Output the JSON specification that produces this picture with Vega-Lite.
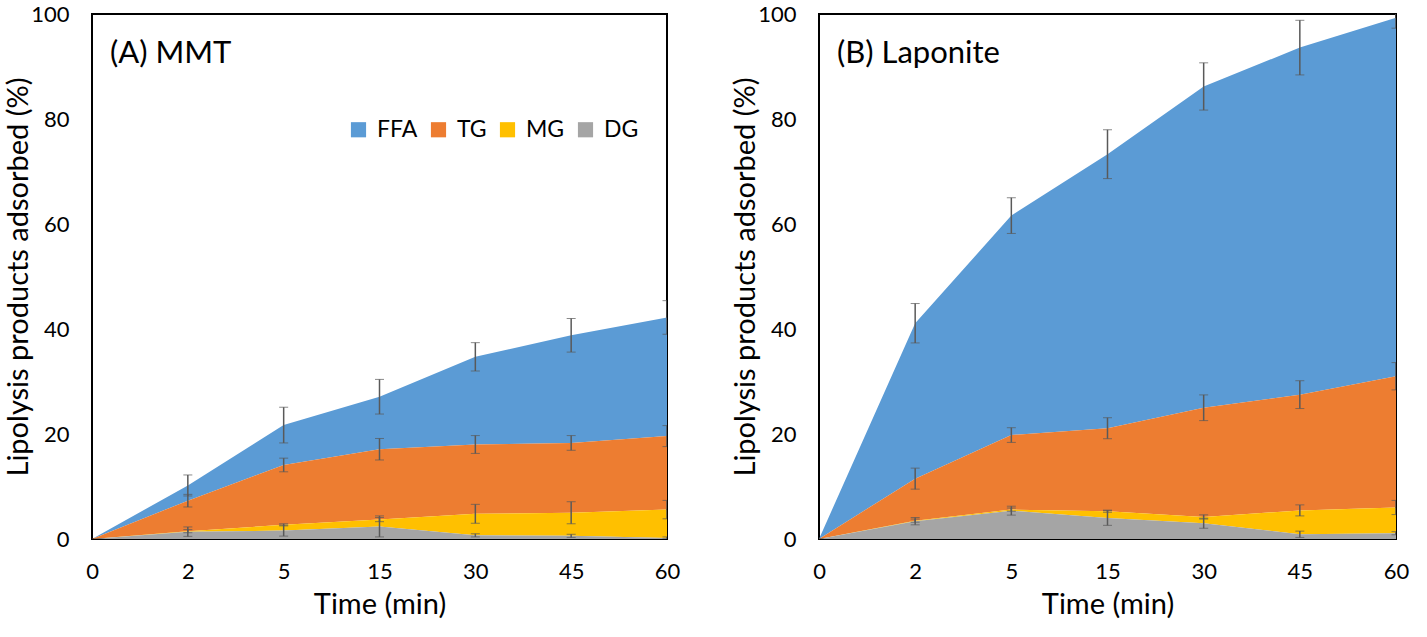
{
  "$schema": "https://vega.github.io/schema/vega-lite/v6.json",
  "background": "white",
  "padding": {"left": 3, "top": 2, "right": 5, "bottom": 5},
  "data": {
    "values": [
      {"panel": "A", "time": "0", "series": "FFA", "rank": 4, "value": 0, "err": 0},
      {"panel": "A", "time": "0", "series": "TG", "rank": 3, "value": 0, "err": 0},
      {"panel": "A", "time": "0", "series": "MG", "rank": 2, "value": 0, "err": 0},
      {"panel": "A", "time": "0", "series": "DG", "rank": 1, "value": 0, "err": 0},
      {"panel": "A", "time": "2", "series": "FFA", "rank": 4, "value": 2.9, "err": 2.0},
      {"panel": "A", "time": "2", "series": "TG", "rank": 3, "value": 5.8, "err": 1.2},
      {"panel": "A", "time": "2", "series": "MG", "rank": 2, "value": 0.1, "err": 0.3},
      {"panel": "A", "time": "2", "series": "DG", "rank": 1, "value": 1.4, "err": 0.9},
      {"panel": "A", "time": "5", "series": "FFA", "rank": 4, "value": 7.6, "err": 3.4},
      {"panel": "A", "time": "5", "series": "TG", "rank": 3, "value": 11.4, "err": 1.3},
      {"panel": "A", "time": "5", "series": "MG", "rank": 2, "value": 1.1, "err": 0.2},
      {"panel": "A", "time": "5", "series": "DG", "rank": 1, "value": 1.6, "err": 1.05},
      {"panel": "A", "time": "15", "series": "FFA", "rank": 4, "value": 10.0, "err": 3.3},
      {"panel": "A", "time": "15", "series": "TG", "rank": 3, "value": 13.4, "err": 2.05},
      {"panel": "A", "time": "15", "series": "MG", "rank": 2, "value": 1.3, "err": 0.4},
      {"panel": "A", "time": "15", "series": "DG", "rank": 1, "value": 2.4, "err": 2.0},
      {"panel": "A", "time": "30", "series": "FFA", "rank": 4, "value": 16.7, "err": 2.7},
      {"panel": "A", "time": "30", "series": "TG", "rank": 3, "value": 13.2, "err": 1.7},
      {"panel": "A", "time": "30", "series": "MG", "rank": 2, "value": 4.1, "err": 1.8},
      {"panel": "A", "time": "30", "series": "DG", "rank": 1, "value": 0.7, "err": 0.3},
      {"panel": "A", "time": "45", "series": "FFA", "rank": 4, "value": 20.5, "err": 3.2},
      {"panel": "A", "time": "45", "series": "TG", "rank": 3, "value": 13.3, "err": 1.4},
      {"panel": "A", "time": "45", "series": "MG", "rank": 2, "value": 4.4, "err": 2.1},
      {"panel": "A", "time": "45", "series": "DG", "rank": 1, "value": 0.6, "err": 0.3},
      {"panel": "A", "time": "60", "series": "FFA", "rank": 4, "value": 22.6, "err": 3.2},
      {"panel": "A", "time": "60", "series": "TG", "rank": 3, "value": 14.0, "err": 2.0},
      {"panel": "A", "time": "60", "series": "MG", "rank": 2, "value": 5.4, "err": 1.75},
      {"panel": "A", "time": "60", "series": "DG", "rank": 1, "value": 0.2, "err": 0.2},
      {"panel": "B", "time": "0", "series": "FFA", "rank": 4, "value": 0, "err": 0},
      {"panel": "B", "time": "0", "series": "TG", "rank": 3, "value": 0, "err": 0},
      {"panel": "B", "time": "0", "series": "MG", "rank": 2, "value": 0, "err": 0},
      {"panel": "B", "time": "0", "series": "DG", "rank": 1, "value": 0, "err": 0},
      {"panel": "B", "time": "2", "series": "FFA", "rank": 4, "value": 29.6, "err": 3.75},
      {"panel": "B", "time": "2", "series": "TG", "rank": 3, "value": 8.0, "err": 2.0},
      {"panel": "B", "time": "2", "series": "MG", "rank": 2, "value": 0.1, "err": 0.3},
      {"panel": "B", "time": "2", "series": "DG", "rank": 1, "value": 3.4, "err": 0.7},
      {"panel": "B", "time": "5", "series": "FFA", "rank": 4, "value": 41.8, "err": 3.4},
      {"panel": "B", "time": "5", "series": "TG", "rank": 3, "value": 14.2, "err": 1.4},
      {"panel": "B", "time": "5", "series": "MG", "rank": 2, "value": 0.2, "err": 0.3},
      {"panel": "B", "time": "5", "series": "DG", "rank": 1, "value": 5.4, "err": 0.85},
      {"panel": "B", "time": "15", "series": "FFA", "rank": 4, "value": 52.2, "err": 4.65},
      {"panel": "B", "time": "15", "series": "TG", "rank": 3, "value": 15.8, "err": 2.0},
      {"panel": "B", "time": "15", "series": "MG", "rank": 2, "value": 1.3, "err": 0.2},
      {"panel": "B", "time": "15", "series": "DG", "rank": 1, "value": 4.0, "err": 1.4},
      {"panel": "B", "time": "30", "series": "FFA", "rank": 4, "value": 61.2, "err": 4.5},
      {"panel": "B", "time": "30", "series": "TG", "rank": 3, "value": 20.8, "err": 2.45},
      {"panel": "B", "time": "30", "series": "MG", "rank": 2, "value": 1.2, "err": 0.4},
      {"panel": "B", "time": "30", "series": "DG", "rank": 1, "value": 3.0, "err": 0.95},
      {"panel": "B", "time": "45", "series": "FFA", "rank": 4, "value": 66.1, "err": 5.2},
      {"panel": "B", "time": "45", "series": "TG", "rank": 3, "value": 22.05, "err": 2.65},
      {"panel": "B", "time": "45", "series": "MG", "rank": 2, "value": 4.55, "err": 1.05},
      {"panel": "B", "time": "45", "series": "DG", "rank": 1, "value": 0.9, "err": 0.6},
      {"panel": "B", "time": "60", "series": "FFA", "rank": 4, "value": 68.3, "err": 2.0},
      {"panel": "B", "time": "60", "series": "TG", "rank": 3, "value": 25.0, "err": 2.6},
      {"panel": "B", "time": "60", "series": "MG", "rank": 2, "value": 4.9, "err": 1.35},
      {"panel": "B", "time": "60", "series": "DG", "rank": 1, "value": 1.1, "err": 0.3}
    ]
  },
  "spacing": 49,
  "resolve": {"legend": {"color": "independent"}},
  "hconcat": [
    {
      "width": 575,
      "height": 525,
      "title": {"text": "(A) MMT", "anchor": "start", "frame": "group", "baseline": "top", "offset": -67, "dx": 18},
      "transform": [{"filter": "datum.panel == 'A'"}],
      "layer": [
        {
          "mark": {"type": "area", "opacity": 1},
          "encoding": {
            "x": {"field": "time", "type": "ordinal", "sort": ["0", "2", "5", "15", "30", "45", "60"], "scale": {"type": "point", "padding": 0}, "title": "Time (min)"},
            "y": {"field": "value", "type": "quantitative", "stack": "zero", "scale": {"domain": [0, 100]}, "axis": {"values": [0, 20, 40, 60, 80, 100]}, "title": "Lipolysis products adsorbed (%)"},
            "color": {
              "field": "series", "type": "nominal",
              "scale": {"domain": ["FFA", "TG", "MG", "DG"], "range": ["#5B9BD5", "#ED7D31", "#FFC000", "#A5A5A5"]},
              "legend": {"title": null, "orient": "none", "legendX": 255, "legendY": 104, "direction": "horizontal", "columns": 4, "symbolType": "square", "symbolSize": 230, "symbolStrokeWidth": 0, "labelOffset": 7, "columnPadding": 9, "labelFontSize": 23, "labelFont": "Lato", "labelColor": "black", "padding": 0}
            },
            "order": {"field": "rank", "type": "quantitative"}
          }
        },
        {
          "transform": [
            {"stack": "value", "groupby": ["time"], "sort": [{"field": "rank", "order": "ascending"}], "as": ["base", "top"]},
            {"filter": "datum.err > 0"}
          ],
          "mark": {"type": "errorbar", "clip": true, "ticks": {"size": 9, "color": "#595959", "strokeWidth": 1.5}, "rule": {"color": "#595959", "strokeWidth": 1.5}},
          "encoding": {
            "x": {"field": "time", "type": "ordinal", "sort": ["0", "2", "5", "15", "30", "45", "60"]},
            "y": {"field": "top", "type": "quantitative", "title": "Lipolysis products adsorbed (%)"},
            "yError": {"field": "err"}
          }
        }
      ]
    },
    {
      "width": 577,
      "height": 525,
      "title": {"text": "(B) Laponite", "anchor": "start", "frame": "group", "baseline": "top", "offset": -67, "dx": 18},
      "transform": [{"filter": "datum.panel == 'B'"}],
      "layer": [
        {
          "mark": {"type": "area", "opacity": 1},
          "encoding": {
            "x": {"field": "time", "type": "ordinal", "sort": ["0", "2", "5", "15", "30", "45", "60"], "scale": {"type": "point", "padding": 0}, "title": "Time (min)"},
            "y": {"field": "value", "type": "quantitative", "stack": "zero", "scale": {"domain": [0, 100]}, "axis": {"values": [0, 20, 40, 60, 80, 100]}, "title": "Lipolysis products adsorbed (%)"},
            "color": {
              "field": "series", "type": "nominal",
              "scale": {"domain": ["FFA", "TG", "MG", "DG"], "range": ["#5B9BD5", "#ED7D31", "#FFC000", "#A5A5A5"]},
              "legend": null
            },
            "order": {"field": "rank", "type": "quantitative"}
          }
        },
        {
          "transform": [
            {"stack": "value", "groupby": ["time"], "sort": [{"field": "rank", "order": "ascending"}], "as": ["base", "top"]},
            {"filter": "datum.err > 0"}
          ],
          "mark": {"type": "errorbar", "clip": true, "ticks": {"size": 9, "color": "#595959", "strokeWidth": 1.5}, "rule": {"color": "#595959", "strokeWidth": 1.5}},
          "encoding": {
            "x": {"field": "time", "type": "ordinal", "sort": ["0", "2", "5", "15", "30", "45", "60"]},
            "y": {"field": "top", "type": "quantitative", "title": "Lipolysis products adsorbed (%)"},
            "yError": {"field": "err"}
          }
        }
      ]
    }
  ],
  "config": {
    "view": {"stroke": "black", "strokeWidth": 2},
    "font": "Lato",
    "title": {"font": "Lato", "fontSize": 31, "fontWeight": "normal", "color": "black"},
    "axis": {
      "labelFont": "Lato", "titleFont": "Lato", "labelFontSize": 22, "titleFontSize": 29,
      "labelColor": "black", "titleColor": "black", "titleFontWeight": "normal",
      "domain": false, "ticks": false, "grid": false
    },
    "axisX": {"labelAngle": 0, "labelPadding": 22, "titlePadding": 8},
    "axisY": {"labelPadding": 23, "titlePadding": -3}
  }
}
